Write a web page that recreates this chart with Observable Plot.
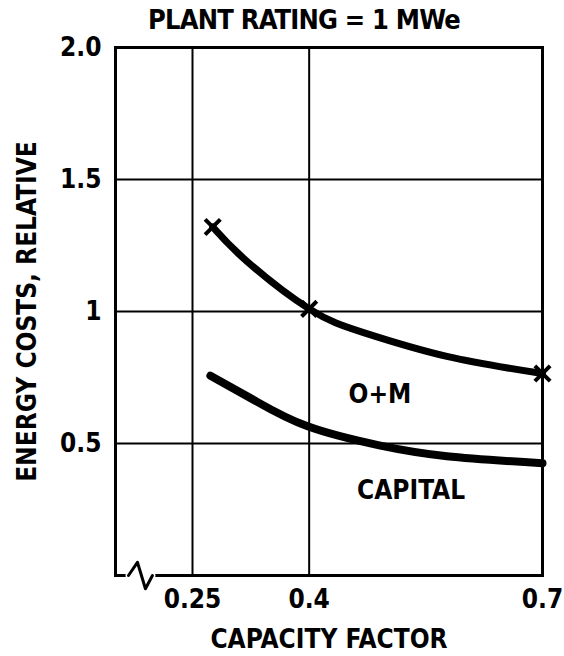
<!DOCTYPE html>
<html><head><meta charset="utf-8">
<script src="https://cdn.jsdelivr.net/npm/d3@7"></script>
<script src="https://cdn.jsdelivr.net/npm/@observablehq/plot@0.6"></script>
<style>
body{margin:0;background:#fff;width:564px;height:656px;position:relative;overflow:hidden}
#title{position:absolute;z-index:2;left:304px;top:4px;transform:translateX(-50%);white-space:nowrap;letter-spacing:-0.8px;
 font-family:"DejaVu Sans Condensed","DejaVu Sans",sans-serif;font-stretch:condensed;font-weight:bold;font-size:27px;line-height:32px;color:#000}
#chart{position:absolute;left:0;top:0;z-index:1}
</style></head><body>
<div id="title">PLANT RATING = 1 MWe</div>
<div id="chart"></div>
<script>
// Total energy cost curve (O+M + capital)
const upperX = [0.276, 0.32, 0.40, 0.47, 0.577, 0.70];
const upperY = [1.32, 1.19, 1.01, 0.92, 0.83, 0.765];
// Marked points on the total curve
const markX = [0.276, 0.40, 0.70];
const markY = [1.32, 1.01, 0.765];
// Capital cost curve
const lowerX = [0.273, 0.33, 0.398, 0.49, 0.577, 0.70];
const lowerY = [0.757, 0.663, 0.565, 0.493, 0.452, 0.425];
// Tick values and labels
const xTicks = [0.25, 0.4, 0.7];
const xTickLabels = ["0.25", "0.4", "0.7"];
const yTicks = [0.5, 1, 1.5, 2];
const yTickLabels = ["0.5", "1", "1.5", "2.0"];
// Region labels
const regionText = ["O+M", "CAPITAL"];
const regionX = [0.491, 0.531];
const regionY = [0.685, 0.32];
// Axis break zigzag (data units)
const breakX = [0.1677, 0.1792, 0.1895, 0.1985];
const breakY = [0.0, 0.05, -0.05, 0.0];

const upper = upperX.map((x, i) => ({x, y: upperY[i]}));
const marks = markX.map((x, i) => ({x, y: markY[i]}));
const lower = lowerX.map((x, i) => ({x, y: lowerY[i]}));
const regions = regionText.map((t, i) => ({t, x: regionX[i], y: regionY[i]}));
const brk = breakX.map((x, i) => ({x, y: breakY[i]}));
const font = '"DejaVu Sans Condensed","DejaVu Sans",sans-serif';

const chart = Plot.plot({
  width: 564,
  height: 656,
  marginLeft: 115,
  marginRight: 22,
  marginTop: 47,
  marginBottom: 81,
  style: {fontFamily: font, fontStretch: "condensed", fontWeight: "bold", fontSize: "26px", color: "#000", background: "transparent"},
  x: {domain: [0.151, 0.7]},
  y: {domain: [0, 2]},
  marks: [
    Plot.gridX([0.25, 0.4], {stroke: "#000", strokeOpacity: 1, strokeWidth: 2}),
    Plot.gridY([0.5, 1, 1.5], {stroke: "#000", strokeOpacity: 1, strokeWidth: 2}),
    Plot.frame({stroke: "#000", strokeWidth: 3}),
    Plot.line([brk[0], brk[brk.length - 1]], {x: "x", y: "y", stroke: "#fff", strokeWidth: 6, clip: false}),
    Plot.line(brk, {x: "x", y: "y", stroke: "#000", strokeWidth: 3, clip: false}),
    Plot.axisX(xTicks, {tickSize: 0, tickPadding: 14, tickFormat: (d, i) => xTickLabels[i],
      label: "CAPACITY FACTOR", labelAnchor: "center", labelArrow: "none", labelOffset: 72}),
    Plot.axisY(yTicks, {tickSize: 0, tickPadding: 14, tickFormat: (d, i) => yTickLabels[i],
      label: "ENERGY COSTS, RELATIVE", labelAnchor: "center", labelArrow: "none", labelOffset: 98}),
    Plot.line(lower, {x: "x", y: "y", curve: "natural", stroke: "#000", strokeWidth: 8, strokeLinecap: "round"}),
    Plot.line(upper, {x: "x", y: "y", curve: "natural", stroke: "#000", strokeWidth: 7, strokeLinecap: "round"}),
    Plot.dot(marks, {x: "x", y: "y", symbol: "times", r: 7, stroke: "#000", strokeWidth: 4}),
    Plot.text(regions, {x: "x", y: "y", text: "t", fontSize: 26, fontWeight: "bold", fill: "#000"})
  ]
});
document.getElementById("chart").appendChild(chart);
</script>
</body></html>
